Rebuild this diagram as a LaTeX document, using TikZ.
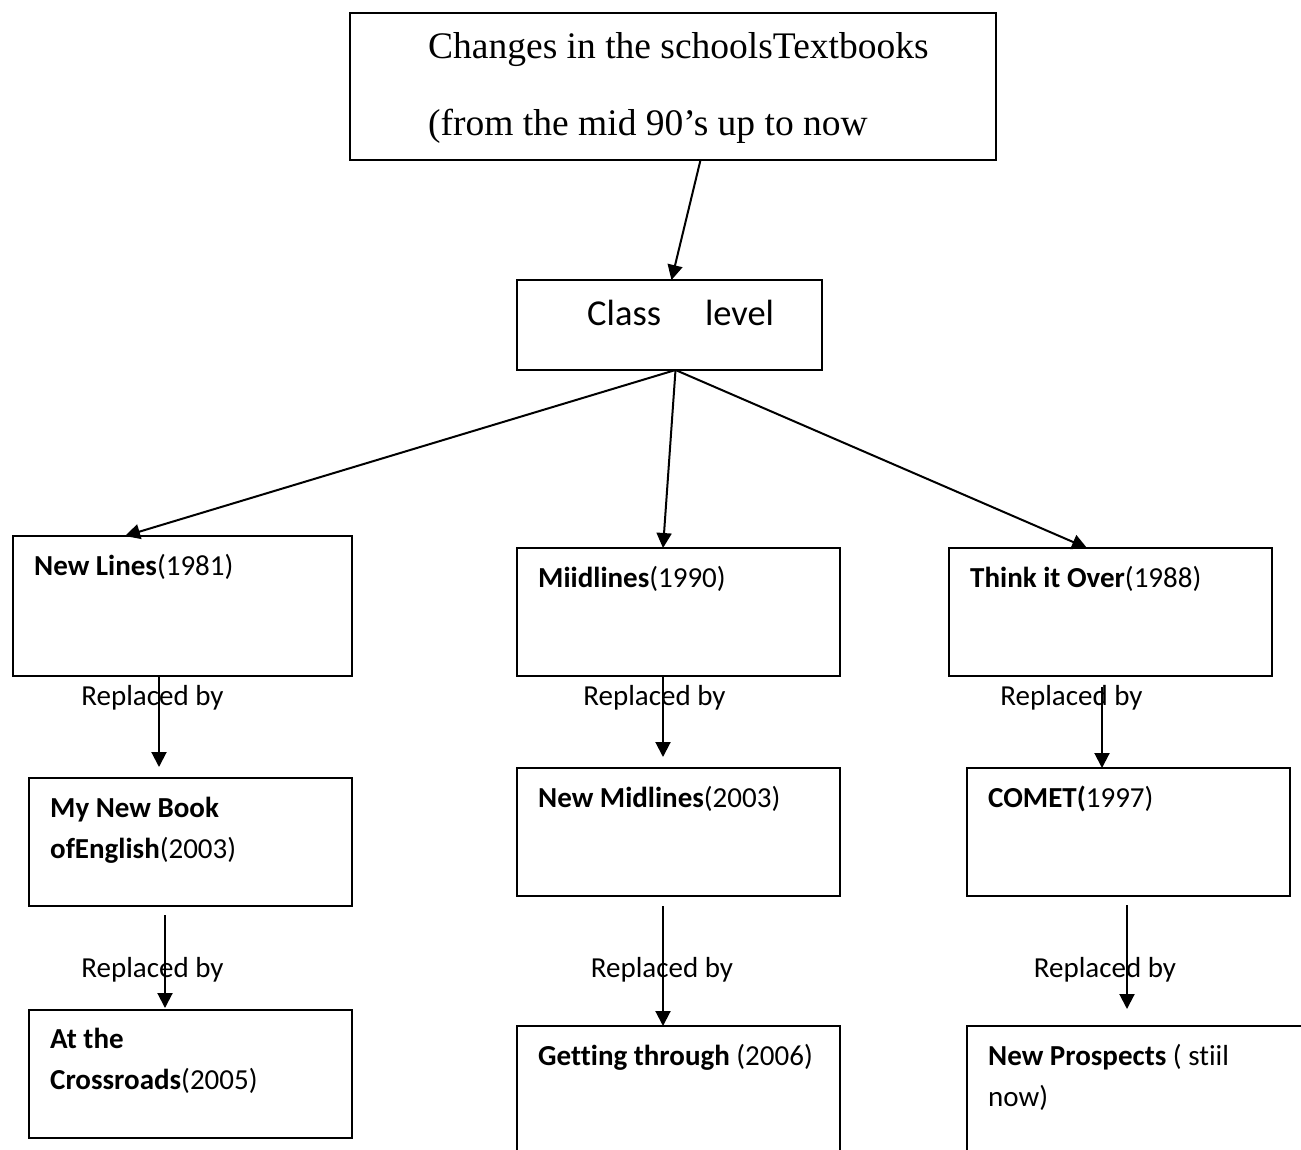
\documentclass[tikz,border=0pt]{standalone}
\usepackage{fontspec}
\setmainfont{Carlito}[Ligatures=CommonOff]
\newfontfamily\timesfont{Liberation Serif}
\usetikzlibrary{arrows.meta}
\tikzset{signal/.style={%
  ->,
  line width=2pt,
  >={Triangle[length=15pt,width=15pt]},
  }
}
\tikzset{block/.style={%
  draw,
  line width=2pt,
  anchor=north west,
  inner sep=0pt,
  outer sep=0pt,
  }
}
\tikzset{booktext/.style={%
  anchor=base west,
  inner sep=0pt,
  align=left,
  font=\fontsize{29}{41}\selectfont,
  }
}
\tikzset{replaced/.style={anchor=base, inner sep=0pt, font=\fontsize{29}{35}\selectfont}}

\begin{document}
\begin{tikzpicture}[x=1pt,y=-1pt]
  \useasboundingbox (0,0) rectangle (1301,1149);
  \clip (0,0) rectangle (1301,1149);

  % boxes
  \node (top) [block, minimum width=646pt, minimum height=147pt] at (350,13) {};
  \node (class) [block, minimum width=305pt, minimum height=90pt] at (517,280) {};
  \node (newlines) [block, minimum width=339pt, minimum height=140pt] at (13,536) {};
  \node (miidlines) [block, minimum width=323pt, minimum height=128pt] at (517,548) {};
  \node (think) [block, minimum width=323pt, minimum height=128pt] at (949,548) {};
  \node (mynewbook) [block, minimum width=323pt, minimum height=128pt] at (29,778) {};
  \node (newmidlines) [block, minimum width=323pt, minimum height=128pt] at (517,768) {};
  \node (comet) [block, minimum width=323pt, minimum height=128pt] at (967,768) {};
  \node (crossroads) [block, minimum width=323pt, minimum height=128pt] at (29,1010) {};
  \node (getting) [block, minimum width=323pt, minimum height=160pt] at (517,1026) {};
  \node (prospects) [block, minimum width=360pt, minimum height=160pt] at (967,1026) {};

  % texts (two-line nodes sit on the baseline of their last line)
  \node (toptext) [anchor=base west, inner sep=0pt, align=left, font=\timesfont\fontsize{37.5}{77}\selectfont] at (428,135) {Changes in the schoolsTextbooks\\(from the mid 90’s up to now};
  \node (classtext) [anchor=base west, inner sep=0pt, font=\fontsize{36.5}{40}\selectfont] at (587,325) {Class\hspace{44pt}level};
  \node (newlinestext) [booktext] at ([shift={(21,39)}]newlines.north west) {\textbf{New Lines}(1981)};
  \node (miidlinestext) [booktext] at ([shift={(21,39)}]miidlines.north west) {\textbf{Miidlines}(1990)};
  \node (thinktext) [booktext] at ([shift={(21,39)}]think.north west) {\textbf{Think it Over}(1988)};
  \node (mynewbooktext) [booktext] at ([shift={(21,80)}]mynewbook.north west) {\textbf{My New Book}\\\textbf{ofEnglish}(2003)};
  \node (newmidlinestext) [booktext] at ([shift={(21,39)}]newmidlines.north west) {\textbf{New Midlines}(2003)};
  \node (comettext) [booktext] at ([shift={(21,39)}]comet.north west) {\textbf{COMET(}1997)};
  \node (crossroadstext) [booktext] at ([shift={(21,79)}]crossroads.north west) {\textbf{At the}\\\textbf{Crossroads}(2005)};
  \node (gettingtext) [booktext] at ([shift={(21,39)}]getting.north west) {\textbf{Getting through} (2006)};
  \node (prospectstext) [booktext] at ([shift={(21,80)}]prospects.north west) {\textbf{New Prospects} ( stiil\\now)};

  % connectors
  \draw [signal] ([xshift=27.5pt]top.south) -- ([xshift=2pt]class.north);
  \draw [signal] ([xshift=6pt]class.south) -- ([xshift=112pt]newlines.north west);
  \draw [signal] ([xshift=6pt]class.south) -- ([xshift=146pt]miidlines.north west);
  \draw [signal] ([xshift=6pt]class.south) -- ([xshift=138pt]think.north west);

  \draw [signal, shorten >=11pt] ([xshift=146pt]newlines.south west) -- ([xshift=130pt]mynewbook.north west);
  \draw [signal, shorten <=9pt, shorten >=2pt] ([xshift=136pt]mynewbook.south west) -- ([xshift=136pt]crossroads.north west);
  \draw [signal, shorten >=11pt] ([xshift=146pt]miidlines.south west) -- ([xshift=146pt]newmidlines.north west);
  \draw [signal, shorten <=10pt] ([xshift=146pt]newmidlines.south west) -- ([xshift=146pt]getting.north west);
  \draw [signal, shorten <=11pt] ([xshift=153pt]think.south west) -- ([xshift=135pt]comet.north west);
  \draw [signal, shorten <=9pt, shorten >=17pt] ([xshift=160pt]comet.south west) -- ([xshift=160pt]prospects.north west);

  % labels on the arrows
  \node (rep1) [replaced] at (152.5,705) {Replaced by};
  \node (rep2) [replaced] at (654.5,705) {Replaced by};
  \node (rep3) [replaced] at (1071.5,705) {Replaced by};
  \node (rep4) [replaced] at (152.5,977) {Replaced by};
  \node (rep5) [replaced] at (662,977) {Replaced by};
  \node (rep6) [replaced] at (1105,977) {Replaced by};
\end{tikzpicture}
\end{document}
